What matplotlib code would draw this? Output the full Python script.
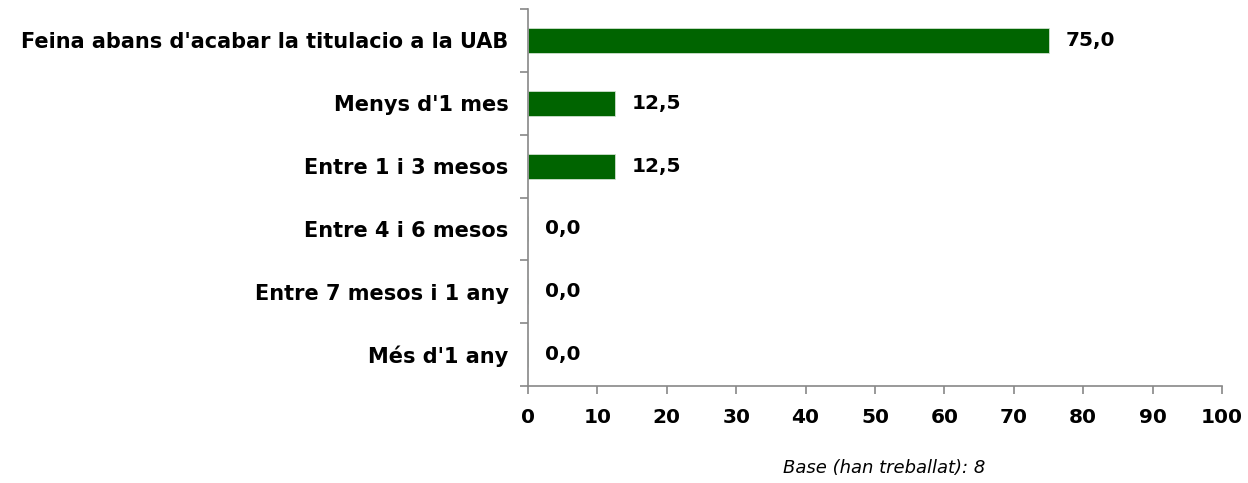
import matplotlib
matplotlib.use("Agg")
import matplotlib.pyplot as plt
import numpy as np

categories = ["Feina abans d'acabar la titulacio a la UAB", "Menys d'1 mes",
              "Entre 1 i 3 mesos", "Entre 4 i 6 mesos", "Entre 7 mesos i 1 any",
              "Més d'1 any"]
values = [75.0, 12.5, 12.5, 0.0, 0.0, 0.0]
xticks = [0, 10, 20, 30, 40, 50, 60, 70, 80, 90, 100]
note = "Base (han treballat): 8"

plt.rcParams['font.family'] = ['DejaVu Sans']
fig = plt.figure(figsize=(12.48, 4.83), dpi=100)
ax = fig.add_axes([528/1248, 1-386/483, (1222-528)/1248, (386-9)/483])

y = np.arange(len(categories))
ax.barh(y, values, height=0.4, color='#006400', edgecolor='#cfe0cf', linewidth=0.6)
ax.set_ylim(len(categories)-0.5, -0.5)
ax.set_xlim(0, 100)
ax.set_xticks(xticks)
ax.set_xticklabels([str(t) for t in xticks], fontsize=14.5, fontweight='bold')
ax.set_yticks(y)
ax.set_yticklabels(categories, fontsize=15, fontweight='bold')
ax.set_yticks(np.arange(-0.5, len(categories)), minor=True)
ax.tick_params(axis='y', which='major', length=0, pad=14)
ax.tick_params(axis='y', which='minor', length=6, color='#888888', width=1.2)
ax.tick_params(axis='x', which='major', length=6, color='#888888', width=1.2, pad=10)
for s in ['top', 'right']:
    ax.spines[s].set_visible(False)
for s in ['left', 'bottom']:
    ax.spines[s].set_color('#888888')
    ax.spines[s].set_linewidth(1.2)

for yi, v in zip(y, values):
    ax.annotate(f"{v:.1f}".replace('.', ','), xy=(v, yi), xytext=(12, 0),
                textcoords='offset points', va='center', ha='left',
                fontsize=14.5, fontweight='bold')

fig.text(884/1248, 1-468/483, note, ha='center', va='center', fontsize=13, style='italic')
fig.savefig('out.png', dpi=100)
